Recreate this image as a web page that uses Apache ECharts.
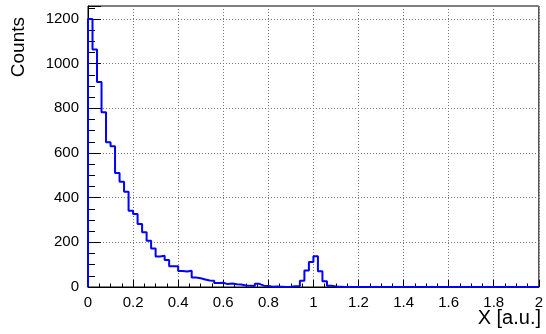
<!DOCTYPE html>
<html>
<head>
<meta charset="utf-8">
<script src="https://cdn.jsdelivr.net/npm/echarts@6/dist/echarts.min.js"></script>
<style>html,body{margin:0;padding:0;background:#fff;}#c{width:546px;height:334px;}</style>
</head>
<body>
<div id="c"></div>
<script>
// Histogram definition
var xMin = 0;
var xMax = 2;
var binWidth = 0.02;
// Bin contents (100 bins from 0 to 2)
var counts = [
  1200, 1063, 918, 782, 648, 630, 510, 471, 426, 341,
  327, 282, 245, 207, 172, 137, 140, 121, 93, 93,
  72, 69, 73, 43, 39, 34, 29, 28, 18, 19,
  13, 16, 12, 11, 7, 6, 5, 14, 6, 5,
  1, 2, 1, 0, 1, 3, 4, 28, 74, 112,
  138, 71, 26, 6, 2, 1, 0, 0, 0, 0,
  0, 0, 0, 0, 0, 0, 0, 0, 0, 0,
  0, 0, 0, 0, 0, 0, 0, 0, 0, 0,
  0, 0, 0, 0, 0, 0, 0, 0, 0, 0,
  0, 0, 0, 0, 0, 0, 0, 0, 0, 0
];
var yMax = 1258;
var xTitle = 'X [a.u.]';
var yTitle = 'Counts';

var pts = [[xMin, 0]];
for (var i = 0; i < counts.length; i++) {
  pts.push([xMin + i * binWidth, counts[i]]);
}
pts.push([xMax, counts[counts.length - 1]]);
pts.push([xMax, 0]);

var font = "'Liberation Sans', Arial, Helvetica, sans-serif";
var chart = echarts.init(document.getElementById('c'), null, {renderer: 'canvas'});
chart.setOption({
  animation: false,
  backgroundColor: '#fff',
  grid: {left: 88, right: 5, top: 6, bottom: 47, show: true, borderColor: '#000', borderWidth: 1, backgroundColor: 'transparent'},
  xAxis: {
    type: 'value', min: xMin, max: xMax, interval: 0.2,
    axisLine: {show: true, lineStyle: {color: '#000', width: 1}},
    axisTick: {show: true, inside: true, length: 7, lineStyle: {color: '#000'}},
    minorTick: {show: true, splitNumber: 4, length: 3.5, lineStyle: {color: '#000'}},
    axisLabel: {color: '#000', fontSize: 15, fontFamily: font, margin: 8,
      formatter: function (v) { return String(Math.round(v * 10) / 10); }},
    splitLine: {show: true, lineStyle: {color: '#777', width: 1, type: [1, 2]}}
  },
  yAxis: {
    type: 'value', min: 0, max: yMax, interval: 200,
    axisLine: {show: true, lineStyle: {color: '#000', width: 1}},
    axisTick: {show: true, inside: true, length: 13, lineStyle: {color: '#000'}},
    minorTick: {show: true, splitNumber: 4, length: 7, lineStyle: {color: '#000'}},
    axisLabel: {color: '#000', fontSize: 15, fontFamily: font, margin: 9, showMaxLabel: false,
      formatter: function (v) { return String(Math.round(v)); }},
    splitLine: {show: true, lineStyle: {color: '#777', width: 1, type: [1, 2]}}
  },
  series: [{
    type: 'line', step: 'end', data: pts, symbol: 'none', clip: true,
    lineStyle: {color: '#0000ff', width: 2}
  }],
  graphic: [
    {type: 'text', x: 19, y: 17, rotation: Math.PI / 2,
      style: {text: yTitle, fill: '#000', font: '19px ' + font, textAlign: 'right', textVerticalAlign: 'middle'}},
    {type: 'text', x: 541, y: 318,
      style: {text: xTitle, fill: '#000', font: '20px ' + font, textAlign: 'right', textVerticalAlign: 'middle'}}
  ]
});
</script>
</body>
</html>
